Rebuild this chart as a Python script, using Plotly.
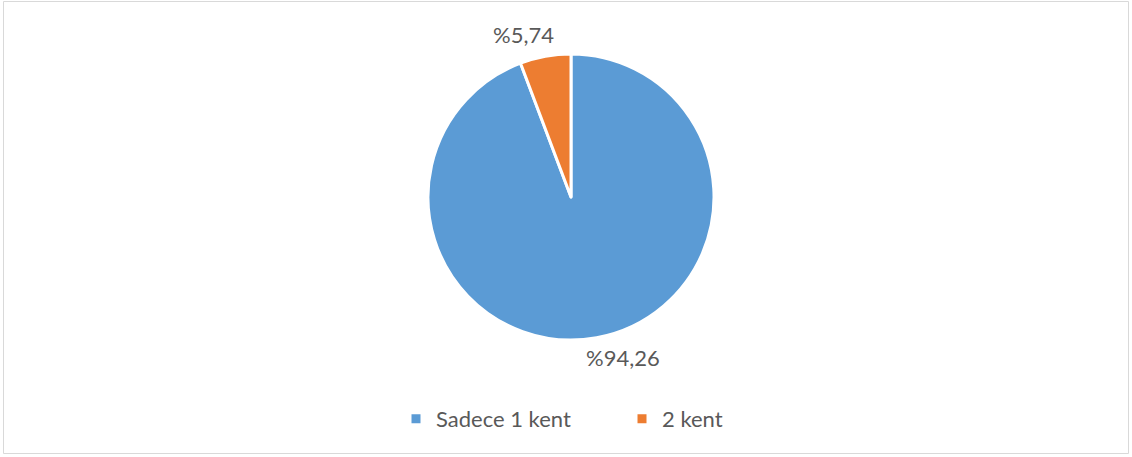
import plotly.graph_objects as go

labels = ["Sadece 1 kent", "2 kent"]
values = [94.26, 5.74]
value_text = ["%94,26", "%5,74"]
colors = ["#5B9BD5", "#ED7D31"]

W, H = 1132, 457
FONT = "Lato"
TXT = "#595959"

fig = go.Figure()
fig.add_trace(go.Pie(
    labels=labels, values=values, sort=False, direction="clockwise", rotation=0,
    marker=dict(colors=colors, line=dict(color="white", width=3)),
    textinfo="none", hoverinfo="label+percent",
    domain=dict(x=[428 / W, 714 / W], y=[(H - 340) / H, (H - 54) / H]),
))

label_pos = [(623, 357), (523, 35)]
for t, (px, py) in zip(value_text, label_pos):
    fig.add_annotation(x=px / W, y=1 - py / H, xref="paper", yref="paper",
                       xanchor="center", yanchor="middle",
                       text=t, showarrow=False, font=dict(family=FONT, size=22, color=TXT))

fig.add_shape(type="rect", xref="paper", yref="paper",
              x0=3.5 / W, x1=1128.5 / W, y0=1 - 453.5 / H, y1=1 - 1.5 / H,
              line=dict(color="#D9D9D9", width=1))

fig.update_layout(
    width=W, height=H, margin=dict(l=0, r=0, t=0, b=0),
    paper_bgcolor="white", plot_bgcolor="white",
    showlegend=True,
    legend=dict(orientation="h", x=396 / W, xanchor="left", y=1 - 419 / H, yanchor="middle",
                font=dict(family=FONT, size=22, color=TXT), entrywidth=181, traceorder="normal",
                itemwidth=30),
)
fig.write_html("out.html", config={"displayModeBar": False},
               post_script="document.body.style.margin='0';document.body.style.overflow='hidden';")
